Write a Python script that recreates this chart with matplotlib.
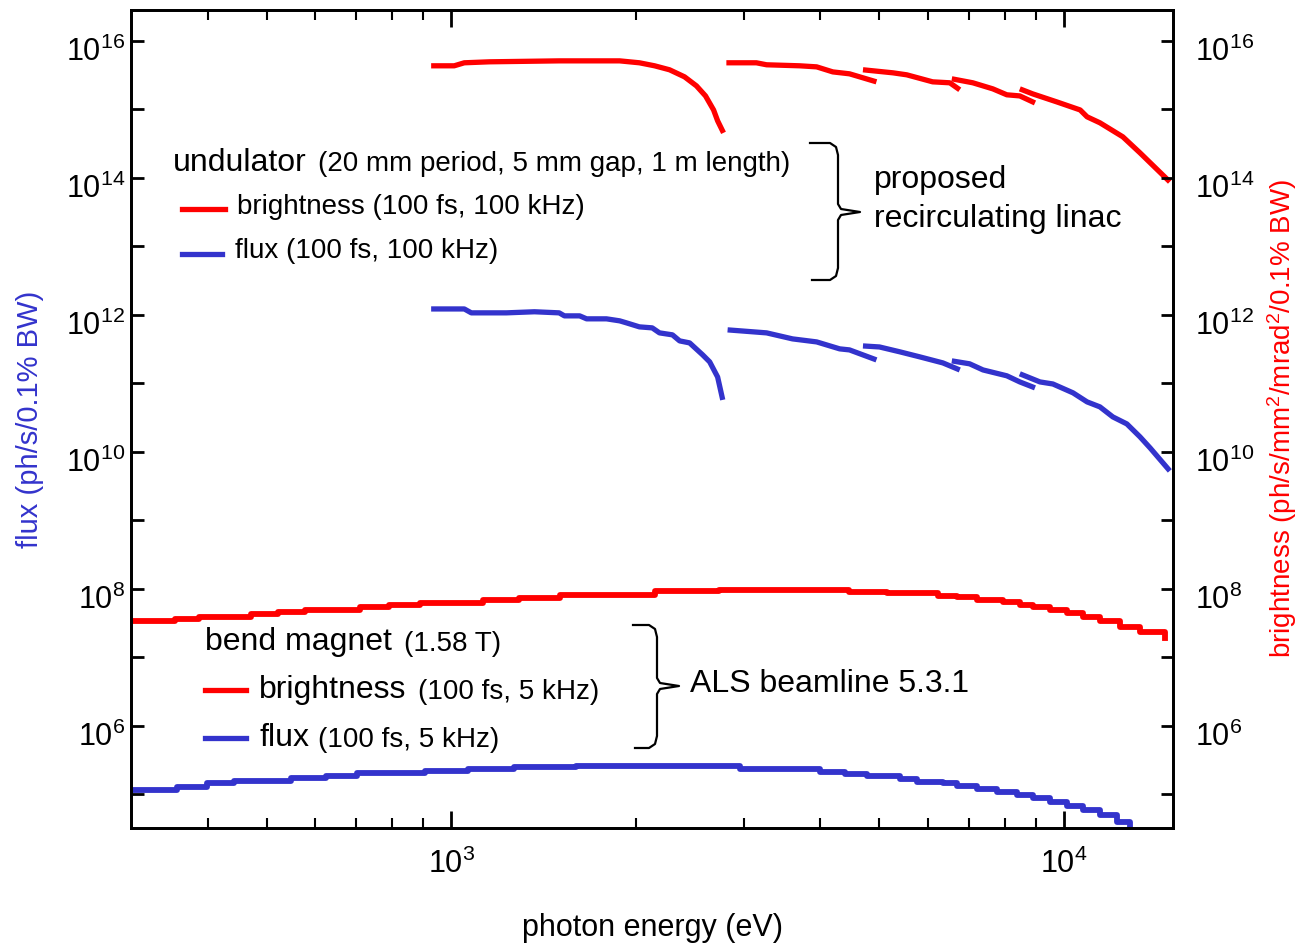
import matplotlib
matplotlib.use("Agg")
import matplotlib.pyplot as plt
from matplotlib.lines import Line2D
from matplotlib.ticker import FixedLocator, NullFormatter
from matplotlib.transforms import ScaledTranslation

plt.rcParams['font.family'] = ['Liberation Sans', 'DejaVu Sans']
plt.rcParams['mathtext.fontset'] = 'custom'
plt.rcParams['mathtext.rm'] = 'Liberation Sans'
plt.rcParams['mathtext.it'] = 'Liberation Sans:italic'

RED = "#ff0000"
BLUE = "#3333cc"

# ---- undulator (proposed recirculating linac), 5 harmonic segments ----
und_E = [
    [927, 1011, 1050, 1154, 1500, 1883, 2028, 2147, 2271, 2403, 2513, 2600, 2680, 2721, 2782],
    [2812, 3148, 3271, 3704, 3948, 4195, 4467, 4943],
    [4699, 5262, 5540, 6106, 6513, 6761],
    [6562, 7102, 7656, 8069, 8473, 8970],
    [8473, 8897, 9747, 10630, 10910, 11450, 12480, 13310, 14890],
]
und_brightness = [
    [4.32e15, 4.32e15, 4.78e15, 4.94e15, 5.1e15, 5.1e15, 4.78e15, 4.32e15, 3.78e15, 2.98e15,
     2.2e15, 1.57e15, 9.8e14, 6.8e14, 4.54e14],
    [4.78e15, 4.78e15, 4.47e15, 4.32e15, 4.17e15, 3.52e15, 3.3e15, 2.52e15],
    [3.78e15, 3.41e15, 3.19e15, 2.52e15, 2.44e15, 1.93e15],
    [2.79e15, 2.44e15, 1.99e15, 1.63e15, 1.57e15, 1.24e15],
    [1.99e15, 1.68e15, 1.28e15, 9.8e14, 7.78e14, 6.36e14, 3.97e14, 2.32e14, 8.75e13],
]
und_flux_E = [
    [927, 1050, 1078, 1230, 1367, 1500, 1530, 1620, 1663, 1792, 1883, 1932, 2028, 2128, 2187,
     2296, 2359, 2449, 2572, 2641, 2721, 2774],
    [2825, 3271, 3606, 3948, 4305, 4467, 4943],
    [4699, 5000, 5395, 5815, 6345, 6761],
    [6562, 7016, 7380, 8069, 8473, 8970],
    [8473, 9140, 9595, 10350, 10910, 11450, 12020, 12670, 13310, 13830, 14890],
]
und_flux = [
    [1.22e12, 1.22e12, 1.07e12, 1.07e12, 1.11e12, 1.07e12, 9.67e11, 9.67e11, 8.75e11, 8.75e11,
     8.18e11, 7.64e11, 6.68e11, 6.46e11, 5.46e11, 5.11e11, 4.17e11, 3.9e11, 2.61e11, 2.06e11,
     1.24e11, 5.74e10],
    [6.04e11, 5.46e11, 4.46e11, 4.03e11, 3.19e11, 3.08e11, 2.2e11],
    [3.52e11, 3.4e11, 2.89e11, 2.44e11, 1.99e11, 1.57e11],
    [2.13e11, 1.93e11, 1.57e11, 1.29e11, 1.05e11, 8.6e10],
    [1.38e11, 1.05e11, 9.8e10, 7.27e10, 5.37e10, 4.54e10, 3.24e10, 2.56e10, 1.66e10, 1.14e10, 5.28e9],
]

# ---- bend magnet (ALS beamline 5.3.1) ----
bm_bright_E = [303, 354, 387, 471, 521, 577, 710, 792, 890, 1128, 1291, 1506, 2154, 2740, 4418,
               4467, 5138, 5665, 6224, 6683, 7208, 7947, 8473, 8897, 9484, 10110, 10740, 11450,
               12350, 13310, 14620]
bm_brightness = [3.4e7, 3.65e7, 3.9e7, 4.3e7, 4.6e7, 4.9e7, 5.5e7, 5.8e7, 6.2e7, 6.9e7, 7.4e7,
                 8.2e7, 9.4e7, 9.7e7, 9.7e7, 9.0e7, 8.7e7, 8.7e7, 7.9e7, 7.6e7, 6.9e7, 6.5e7,
                 5.8e7, 5.5e7, 4.9e7, 4.5e7, 3.9e7, 3.4e7, 2.8e7, 2.36e7, 1.93e7]
bm_flux_E = [303, 356, 399, 442, 548, 625, 702, 907, 1066, 1268, 1595, 2543, 2958, 3527, 3991,
             4385, 4764, 5395, 5752, 6345, 6683, 7208, 7775, 8383, 8897, 9484, 10110, 10740,
             11450, 12210, 12820]
bm_flux = [1.16e5, 1.29e5, 1.47e5, 1.57e5, 1.74e5, 1.86e5, 2.06e5, 2.2e5, 2.36e5, 2.52e5, 2.6e5,
           2.6e5, 2.36e5, 2.36e5, 2.13e5, 1.99e5, 1.86e5, 1.68e5, 1.52e5, 1.47e5, 1.33e5, 1.2e5,
           1.09e5, 9.8e4, 8.9e4, 7.8e4, 6.8e4, 5.9e4, 5.0e4, 3.97e4, 3.47e4]

W, H = 1302, 944
fig = plt.figure(figsize=(W / 100, H / 100), dpi=100)
ax = fig.add_axes([131 / W, 1 - 828 / H, (1173 - 131) / W, (828 - 10) / H])

for e, v in zip(und_E, und_brightness):
    ax.plot(e, v, color=RED, lw=3.8, solid_capstyle="butt")
for e, v in zip(und_flux_E, und_flux):
    ax.plot(e, v, color=BLUE, lw=3.8, solid_capstyle="butt")
ax.plot(bm_bright_E, bm_brightness, color=RED, lw=4.2, drawstyle="steps-post")
ax.plot(bm_flux_E, bm_flux, color=BLUE, lw=4.2, drawstyle="steps-post")

ax.set_xscale("log")
ax.set_yscale("log")
ax.set_xlim(300, 15070)
ylim = (10 ** 4.51, 10 ** 16.45)
ax.set_ylim(*ylim)

maj_y = [1e6, 1e8, 1e10, 1e12, 1e14, 1e16]
min_y = [1e5, 1e7, 1e9, 1e11, 1e13, 1e15]
ylabels = ["$10^{6}$", "$10^{8}$", "$10^{10}$", "$10^{12}$", "$10^{14}$", "$10^{16}$"]
min_x = [400, 500, 600, 700, 800, 900, 2000, 3000, 4000, 5000, 6000, 7000, 8000, 9000]

ax.set_xticks([1e3, 1e4])
ax.set_xticklabels(["$10^{3}$", "$10^{4}$"])
ax.xaxis.set_minor_locator(FixedLocator(min_x))
ax.xaxis.set_minor_formatter(NullFormatter())
ax.set_yticks(maj_y)
ax.set_yticklabels(ylabels)
ax.yaxis.set_minor_locator(FixedLocator(min_y))
ax.yaxis.set_minor_formatter(NullFormatter())
ax.tick_params(axis="x", which="major", direction="in", length=12, width=2, top=True,
               labelsize=22, pad=15)
ax.tick_params(axis="x", which="minor", direction="in", length=7, width=1.5, top=True)
ax.tick_params(axis="y", which="both", direction="in", length=9, width=2, right=False,
               labelsize=22, pad=4)

ax2 = ax.twinx()
ax2.set_yscale("log")
ax2.set_ylim(*ylim)
ax2.set_yticks(maj_y)
ax2.set_yticklabels(ylabels)
ax2.yaxis.set_minor_locator(FixedLocator(min_y))
ax2.yaxis.set_minor_formatter(NullFormatter())
ax2.tick_params(axis="y", which="both", direction="in", length=9, width=2,
                labelsize=22, pad=16)

# tick labels sit a little below their ticks in the original
down = ScaledTranslation(0, -8 / 100, fig.dpi_scale_trans)
for lab in ax.get_yticklabels() + ax2.get_yticklabels():
    lab.set_transform(lab.get_transform() + down)

for a in (ax, ax2):
    for s in a.spines.values():
        s.set_linewidth(2)

ax.set_xlabel("photon energy (eV)", fontsize=22, labelpad=24)
ax.set_ylabel("flux (ph/s/0.1% BW)", fontsize=21, color=BLUE, labelpad=16)
ax2.set_ylabel("brightness (ph/s/mm$^2$/mrad$^2$/0.1% BW)", fontsize=20, color=RED,
               labelpad=8)


def fx(px):
    return px / W


def fy(py):
    return 1 - py / H


def txt(px, py, s, size):
    fig.text(fx(px), fy(py), s, fontsize=size, ha="left", va="center")


def legline(x0, x1, py, color):
    fig.add_artist(Line2D([fx(x0), fx(x1)], [fy(py), fy(py)], color=color, lw=3.8,
                          transform=fig.transFigure))


def brace(x0, xv, xt, y0, ym, y1):
    xs = [x0, xv - 8, xv - 2, xv, xv, xv + 3, xt, xv + 3, xv, xv, xv - 2, xv - 8, x0 + 2]
    ys = [y0, y0, y0 + 4, y0 + 12, ym - 8, ym - 3, ym, ym + 3, ym + 8, y1 - 12, y1 - 4, y1, y1]
    fig.add_artist(Line2D([fx(x) for x in xs], [fy(y) for y in ys], color="black", lw=1.6,
                          transform=fig.transFigure))


# undulator legend
txt(173, 163, "undulator", 23)
txt(318, 164, "(20 mm period, 5 mm gap, 1 m length)", 20)
legline(182, 225, 209, RED)
txt(237, 207, "brightness (100 fs, 100 kHz)", 20)
legline(182, 222, 254, BLUE)
txt(235, 251, "flux (100 fs, 100 kHz)", 20)
brace(810, 838, 860, 143, 212, 280)
txt(874, 180, "proposed", 23)
txt(874, 219, "recirculating linac", 23)

# bend magnet legend
txt(205, 642, "bend magnet", 23)
txt(404, 644, "(1.58 T)", 20)
legline(205, 246, 690, RED)
txt(259, 690, "brightness", 23)
txt(418, 692, "(100 fs, 5 kHz)", 20)
legline(205, 246, 738, BLUE)
txt(259, 738, "flux", 23)
txt(318, 740, "(100 fs, 5 kHz)", 20)
brace(633, 657, 679, 625, 686, 748)
txt(690, 684, "ALS beamline 5.3.1", 23)

fig.savefig("out.png", dpi=100)
